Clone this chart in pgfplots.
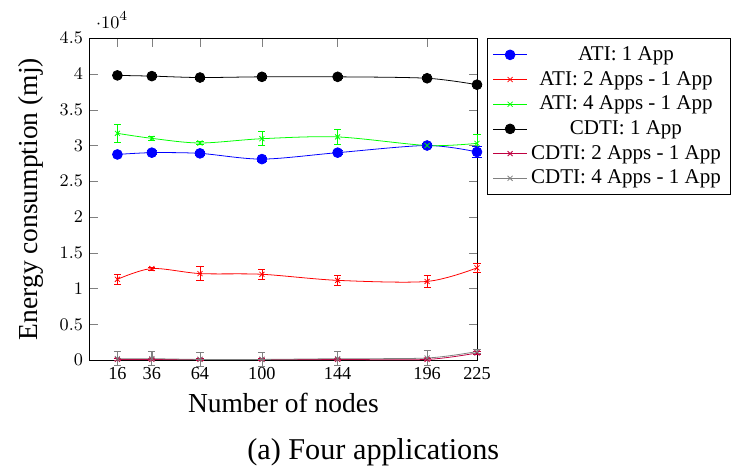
\documentclass[border=0pt]{standalone}
\usepackage{fontspec}
\setmainfont{Liberation Serif}
\usepackage{pgfplots}
\pgfplotsset{compat=1.18}
\pgfplotstableread{
x y e
16 28750 300
36 29000 300
64 28900 300
100 28100 300
144 29000 300
196 30000 300
225 29100 800
}\ativone
\pgfplotstableread{
x y e
16 11300 750
36 12800 200
64 12100 1000
100 12000 700
144 11150 650
196 11000 850
225 12900 600
}\ativtwo
\pgfplotstableread{
x y e
16 31700 1200
36 31000 300
64 30350 200
100 30950 1000
144 31200 1100
196 30000 300
225 30300 1300
}\ativfour
\pgfplotstableread{
x y e
16 39800 200
36 39700 200
64 39500 200
100 39600 200
144 39600 200
196 39400 200
225 38500 200
}\cdtione
\pgfplotstableread{
x y e
16 100 200
36 100 200
64 100 200
100 100 200
144 100 200
196 100 200
225 1000 200
}\cdtitwo
\pgfplotstableread{
x y e
16 200 1000
36 200 1000
64 100 1000
100 100 1000
144 200 1000
196 300 1000
225 1200 300
}\cdtifour
\begin{document}
\begin{tikzpicture}
\begin{axis}[
  name=main,
  scale only axis, width=197.2pt, height=164pt,
  xmin=0, xmax=225, ymin=0, ymax=45000,
  xtick={16,36,64,100,144,196,225},
  xticklabels={16,36,64,100,144,196,225},
  ytick={0,5000,10000,15000,20000,25000,30000,35000,40000,45000},
  xlabel={Number of nodes}, ylabel={Energy consumption (mj)},
  label style={font=\fontsize{14}{16}\selectfont},
  ylabel style={yshift=1.5pt},
  tick label style={font=\fontsize{9.3}{11}\selectfont},
  legend style={at={(1.025,1)}, anchor=north west, font=\fontsize{10.7}{12.6}\selectfont},
  legend cell align=center,
  clip=false,
]
\addplot[blue, smooth, mark=*, mark size=2.5pt, mark options={fill=blue, solid}, error bars/.cd, y dir=both, y explicit] table[x=x,y=y,y error=e]{\ativone};
\addlegendentry{ATI: 1 App}
\addplot[red, smooth, mark=x, mark size=1.8pt, mark options={solid}, error bars/.cd, y dir=both, y explicit] table[x=x,y=y,y error=e]{\ativtwo};
\addlegendentry{ATI: 2 Apps - 1 App}
\addplot[green, smooth, mark=x, mark size=1.8pt, mark options={solid}, error bars/.cd, y dir=both, y explicit] table[x=x,y=y,y error=e]{\ativfour};
\addlegendentry{ATI: 4 Apps - 1 App}
\addplot[black, smooth, mark=*, mark size=2.5pt, mark options={fill=black, solid}, error bars/.cd, y dir=both, y explicit] table[x=x,y=y,y error=e]{\cdtione};
\addlegendentry{CDTI: 1 App}
\addplot[purple, smooth, mark=x, mark size=1.8pt, mark options={solid}, error bars/.cd, y dir=both, y explicit] table[x=x,y=y,y error=e]{\cdtitwo};
\addlegendentry{CDTI: 2 Apps - 1 App}
\addplot[gray, smooth, mark=x, mark size=1.8pt, mark options={solid}, error bars/.cd, y dir=both, y explicit] table[x=x,y=y,y error=e]{\cdtifour};
\addlegendentry{CDTI: 4 Apps - 1 App}
\node[anchor=base, font=\fontsize{15.4}{18}\selectfont] at (rel axis cs:0.732,-0.31) {(a) Four applications};
\end{axis}
\path ([xshift=-6pt]current bounding box.west);
\path ([yshift=6pt]current bounding box.north);
\path ([yshift=-1.5pt]current bounding box.south);
\end{tikzpicture}
\end{document}
